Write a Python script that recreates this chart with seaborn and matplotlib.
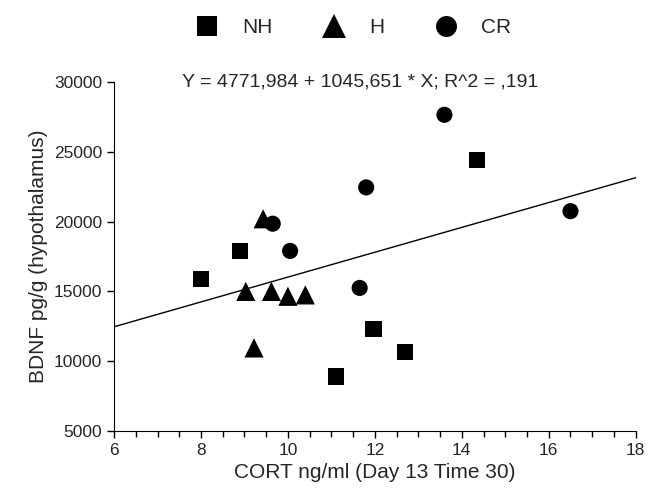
import pandas as pd
import matplotlib
matplotlib.use('Agg')
import matplotlib.pyplot as plt
from matplotlib.ticker import MultipleLocator
import seaborn as sns

# values
nh_cort = [8.0, 8.9, 14.35, 11.97, 12.7, 11.1]
nh_bdnf = [15900, 17900, 24400, 12300, 10650, 8900]
h_cort = [9.43, 9.03, 9.62, 10.0, 10.4, 9.22]
h_bdnf = [20200, 15000, 15000, 14650, 14750, 10950]
cr_cort = [13.6, 11.8, 9.65, 10.05, 11.65, 16.5]
cr_bdnf = [27650, 22450, 19850, 17900, 15250, 20750]
groups = ['NH', 'H', 'CR']
equation = 'Y = 4771,984 + 1045,651 * X; R^2 = ,191'

df = pd.DataFrame({
    'CORT': nh_cort + h_cort + cr_cort,
    'BDNF': nh_bdnf + h_bdnf + cr_bdnf,
    'group': ['NH'] * len(nh_cort) + ['H'] * len(h_cort) + ['CR'] * len(cr_cort),
})

sns.set_style('ticks')
plt.rcParams['font.family'] = ['Liberation Sans', 'DejaVu Sans']

fig = plt.figure(figsize=(6.48, 5.0), dpi=100)
ax = fig.add_axes([0.176, 0.138, 0.805, 0.698])
ax.set_xlim(6, 18)
ax.set_ylim(5000, 30000)

sns.scatterplot(data=df, x='CORT', y='BDNF', style='group', style_order=groups,
                size='group', size_order=groups,
                sizes={'NH': 135, 'H': 190, 'CR': 135},
                markers={'NH': 's', 'H': '^', 'CR': 'o'},
                color='black', linewidth=0, ax=ax, zorder=3)
sns.regplot(data=df, x='CORT', y='BDNF', scatter=False, ci=None, truncate=False,
            color='black', line_kws={'lw': 1}, ax=ax)

ax.set_xlim(6, 18)
ax.set_ylim(5000, 30000)
ax.xaxis.set_major_locator(MultipleLocator(2))
ax.xaxis.set_minor_locator(MultipleLocator(0.5))
ax.yaxis.set_major_locator(MultipleLocator(5000))
ax.tick_params(which='major', length=5, width=1, labelsize=12.5, color='black')
ax.tick_params(which='minor', length=4, width=1, color='black')
ax.set_xlabel('CORT ng/ml (Day 13 Time 30)', fontsize=15)
ax.set_ylabel('BDNF pg/g (hypothalamus)', fontsize=15)
sns.despine(ax=ax)
for sp in ax.spines.values():
    sp.set_color('black')

ax.text(0.471, 1.0, equation, transform=ax.transAxes, ha='center', va='center', fontsize=14)

handles, labels = ax.get_legend_handles_labels()
ax.get_legend().remove()
fig.legend(handles, labels, loc='center', bbox_to_anchor=(0.538, 0.945), ncol=3,
           frameon=False, fontsize=15, markerscale=1.3, handletextpad=0.7,
           columnspacing=1.95)

fig.savefig('out.png', dpi=100)
